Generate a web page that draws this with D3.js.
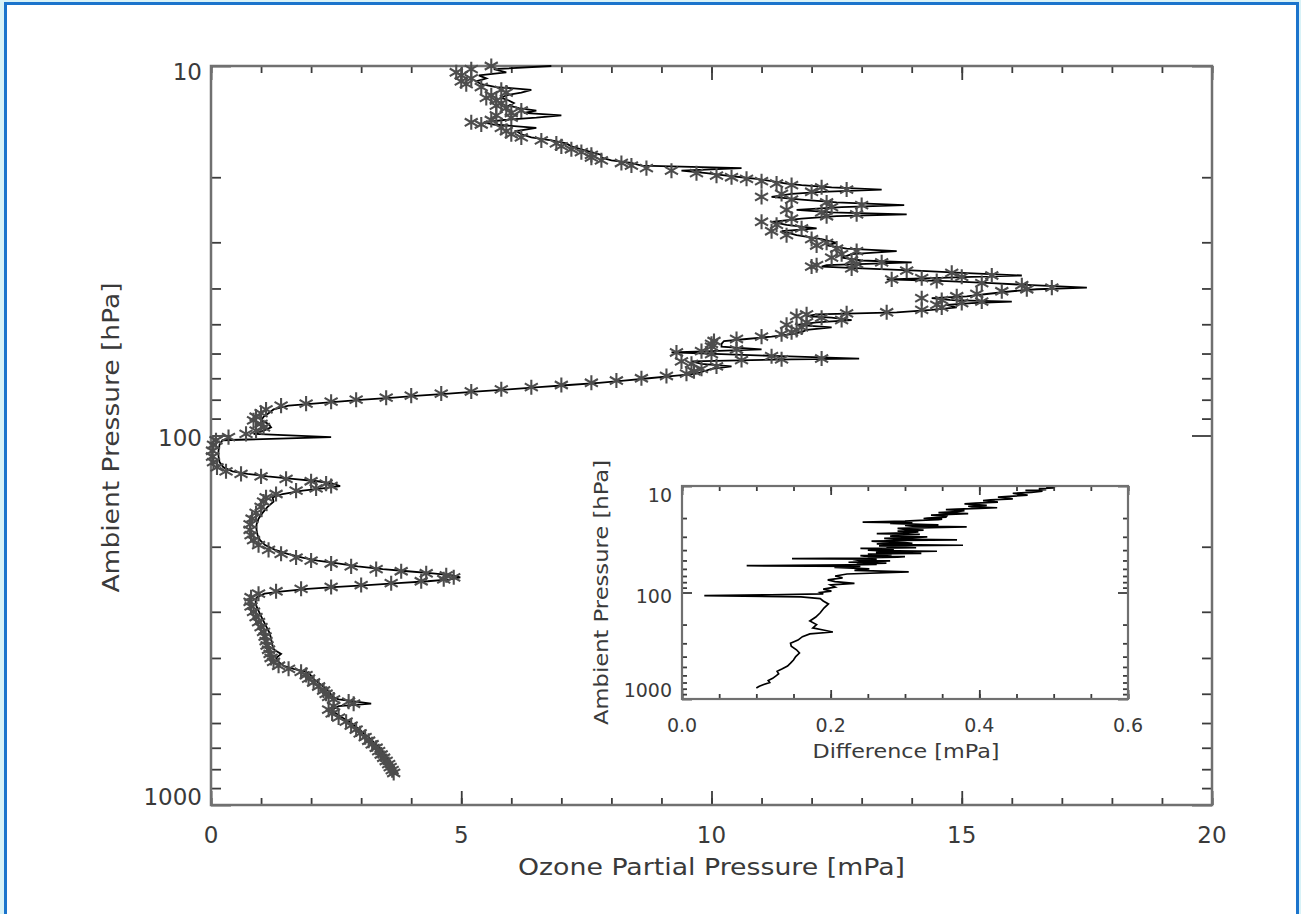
<!DOCTYPE html>
<html>
<head>
<meta charset="utf-8">
<script src="https://cdn.jsdelivr.net/npm/d3@7"></script>
<style>
body { margin: 0; background: #ffffff; }
text { font-family: "DejaVu Sans", sans-serif; fill: #3a3a3a; }
</style>
</head>
<body>
<div id="chart"></div>
<script>
// ambient pressure levels [hPa], surface upwards
var pressureLevels = [
  819,805,790,775,760,745,730,715,700,685,
  670,655,640,625,610,595,580,565,552,540,
  532,525,518,510,500,490,478,466,455,445,
  436,428,420,410,400,390,380,370,360,350,
  340,330,320,310,300,290,282,274,268,264,
  260,257,254,251,248,245,242,239,236,233,
  230,226,222,218,214,209,204,198,192,186,
  180,174,168,162,156,151,147,144,141,139,
  137,135,133,131,129,127,125,122,118,114,
  110,106,103,101,99,97,95,93,91,89,
  87,85,83,82,81,80,79,78,77,76,
  75,74,73,72,71,70,69,68,67,66,
  65,64,63,62.5,62.2,61.9,61.0,60.2,59.6,59.1,
  58.5,57.5,56.5,55.5,54.8,54.0,53.2,52.5,51.8,51.0,
  50.2,49.4,48.7,48.0,47.5,47.0,46.7,46.4,45.7,45.0,
  44.3,43.8,43.4,43.0,42.5,42.0,41.4,40.7,40.2,39.8,
  39.2,38.7,38.2,37.8,37.5,37.2,36.9,36.3,35.8,35.3,
  34.9,34.6,34.3,34.0,33.6,33.0,32.3,31.7,31.2,30.6,
  30.1,29.4,28.7,28.0,27.5,26.9,26.4,25.9,25.5,25.2,
  24.9,24.5,24.1,23.8,23.4,23.0,22.6,22.2,21.9,21.6,
  21.3,21.0,20.8,20.5,20.2,20.0,19.8,19.5,19.2,18.9,
  18.6,18.3,18.0,17.7,17.4,17.1,16.8,16.5,16.2,15.9,
  15.6,15.3,15.0,14.7,14.4,14.2,14.0,13.8,13.6,13.4,
  13.2,13.0,12.8,12.6,12.4,12.2,12.0,11.8,11.6,11.4,
  11.2,11.0,10.8,10.6,10.4,10.2,10.0
];

// ozone partial pressure [mPa], sonde drawn with asterisks
var ozoneStars = [
  3.65,3.62,3.58,3.55,3.50,3.45,3.40,3.35,3.30,3.22,
  3.15,3.08,2.98,2.90,2.80,2.70,2.55,2.42,2.35,2.45,
  2.85,2.75,2.45,2.35,2.30,2.25,2.15,2.05,1.95,1.90,
  1.80,1.55,1.35,1.25,1.20,1.18,1.15,1.12,1.10,1.08,
  1.05,1.00,0.95,0.90,0.85,0.80,0.78,0.80,0.95,1.30,
  1.80,2.40,3.00,3.60,4.20,4.65,4.85,4.70,4.30,3.80,
  3.30,2.80,2.40,2.00,1.70,1.40,1.15,0.95,0.85,0.80,
  0.78,0.78,0.82,0.90,1.00,1.05,1.10,1.30,1.70,2.10,
  2.40,2.30,2.00,1.50,1.00,0.60,0.30,0.12,0.05,0.03,
  0.03,0.05,0.10,0.35,0.70,0.90,1.05,1.00,0.85,0.90,
  1.00,1.10,1.40,1.90,2.40,2.90,3.50,4.00,4.60,5.20,
  5.80,6.40,7.00,7.60,8.10,8.60,9.10,9.50,9.65,9.80,
  10.10,9.60,9.40,10.60,11.40,12.20,11.20,10.00,9.30,9.80,
  10.50,10.00,10.00,10.05,10.50,11.00,11.40,11.60,11.70,11.80,
  11.50,11.90,12.60,12.20,11.70,11.90,12.70,13.50,14.20,14.60,
  14.50,15.00,15.40,14.60,14.20,14.90,15.30,15.80,16.30,16.80,
  16.20,15.40,14.50,13.60,14.20,15.00,15.60,14.80,13.90,12.80,
  12.00,12.10,12.90,13.40,12.80,12.40,12.60,12.90,12.50,12.10,
  12.30,12.00,11.50,11.20,11.80,11.30,11.00,11.60,12.30,12.90,
  12.20,11.50,12.40,13.00,12.30,11.60,11.00,11.40,12.00,12.70,
  12.20,11.60,11.30,11.00,10.70,10.40,10.10,9.70,9.20,8.70,
  8.40,8.20,7.80,7.60,7.60,7.40,7.20,7.00,6.90,6.60,
  6.20,6.00,5.90,5.80,5.40,5.20,5.60,6.00,5.70,6.00,
  6.20,5.90,5.70,5.80,5.70,5.50,5.60,5.90,5.80,5.40,
  5.10,5.00,5.20,5.00,4.90,5.20,5.60
];

// ozone partial pressure [mPa], sonde drawn with the black line
var ozoneLine = [
  3.72,3.69,3.66,3.62,3.57,3.52,3.47,3.42,3.37,3.29,
  3.22,3.15,3.05,2.97,2.87,2.77,2.62,2.50,2.42,2.55,
  3.20,2.90,2.55,2.43,2.39,2.34,2.24,2.14,2.04,1.99,
  1.90,1.65,1.45,1.35,1.30,1.40,1.26,1.23,1.21,1.19,
  1.16,1.11,1.06,1.01,0.96,0.91,0.89,0.92,1.07,1.43,
  1.93,2.53,3.13,3.73,4.33,4.78,4.98,4.83,4.43,3.93,
  3.43,2.93,2.53,2.13,1.83,1.53,1.28,1.08,0.98,0.93,
  0.91,0.91,0.95,1.03,1.13,1.25,1.23,1.43,1.83,2.23,
  2.58,2.43,2.13,1.63,1.13,0.73,0.43,0.25,0.17,0.15,
  0.15,0.17,0.23,2.40,0.85,1.05,1.20,1.15,1.00,1.05,
  1.15,1.25,1.55,2.05,2.55,3.05,3.65,4.15,4.75,5.35,
  5.95,6.55,7.15,7.75,8.25,8.75,9.25,9.70,9.85,10.00,
  10.40,9.80,9.60,10.80,11.60,12.95,11.40,10.20,9.20,10.00,
  11.00,10.20,10.20,10.25,10.70,11.20,11.60,11.80,11.90,12.40,
  11.70,12.10,12.80,12.40,11.90,12.10,12.90,13.70,14.40,14.90,
  14.70,15.20,16.00,14.80,14.40,15.10,15.50,16.00,16.50,17.50,
  16.40,15.60,14.70,13.50,14.40,15.20,16.20,15.00,14.10,13.00,
  12.20,12.30,13.10,14.00,13.00,12.60,12.80,13.70,12.70,12.30,
  12.50,12.20,11.70,11.40,12.10,11.50,11.20,11.80,12.50,13.90,
  12.40,11.70,12.60,13.85,12.50,11.80,11.20,11.60,12.20,13.40,
  12.40,11.80,11.50,11.20,10.90,10.60,10.30,9.90,9.40,10.60,
  8.60,8.40,8.00,7.80,7.80,7.60,7.40,7.20,7.10,6.80,
  6.40,6.20,6.10,6.50,5.65,5.45,5.85,6.50,7.00,6.25,
  6.50,6.15,5.95,6.05,5.95,5.80,5.90,6.20,6.40,5.70,
  5.40,5.30,5.50,5.35,5.90,5.65,6.80
];

// inset: difference between the two sondes [mPa]
var insetPressure = [
  790,760,730,700,670,640,610,580,550,520,
  490,460,430,400,370,345,320,300,280,260,
  245,235,225,215,200,185,170,155,140,128,
  120,114,110,107,105,103,100,97,93,89,
  85,82,79,76,73,70,67,64,62,
  60,59,58,57,56,55,54.5,54,53,52.5,
  52,51,50.5,50,49,48.5,48,47.5,47,46.5,
  46,45.5,45,44.5,44,43.5,43,42.5,42,41.5,
  41,40.5,40,39.5,39,38.5,38,37.5,37,36.5,
  36,35.5,35,34.5,34,33.5,33,32.5,32,31.5,
  31,30.5,30,29.5,29,28.5,28,27.5,27,26.5,
  26,25.5,25,24.6,24.2,23.8,23.5,23.2,23,22.7,
  22.5,22.2,21.8,21.4,21,20.7,20.5,20.2,20,19.6,
  19.2,18.8,18.5,18.2,17.8,17.4,17,16.7,16.5,16.2,
  16,15.7,15.5,15.2,15,14.7,14.5,14.2,14,13.7,
  13.5,13.2,13,12.7,12.5,12.2,12,11.7,11.5,11.2,
  11,10.8,10.6,10.4,10.2,10.0
];
var insetDiff = [
  0.100,0.104,0.110,0.118,0.116,0.122,0.126,0.130,0.128,0.135,
  0.142,0.146,0.150,0.153,0.158,0.154,0.147,0.146,0.156,0.162,
  0.172,0.203,0.190,0.176,0.181,0.172,0.180,0.186,0.191,0.197,
  0.190,0.186,0.160,0.030,0.120,0.190,0.186,0.201,0.190,0.206,
  0.200,0.232,0.206,0.196,0.216,0.206,0.222,0.305,0.232,
  0.252,0.230,0.205,0.240,0.087,0.225,0.262,0.235,0.275,0.245,
  0.224,0.262,0.280,0.238,0.230,0.262,0.148,0.250,0.255,0.290,
  0.300,0.245,0.240,0.270,0.282,0.250,0.322,0.262,0.262,0.290,
  0.343,0.265,0.250,0.285,0.272,0.240,0.315,0.275,0.300,0.265,
  0.378,0.290,0.262,0.310,0.300,0.270,0.255,0.300,0.370,0.285,
  0.272,0.310,0.330,0.280,0.290,0.320,0.262,0.300,0.318,0.290,
  0.325,0.300,0.290,0.335,0.383,0.310,0.300,0.345,0.330,0.300,
  0.280,0.310,0.243,0.300,0.320,0.345,0.350,0.325,0.330,0.355,
  0.356,0.335,0.360,0.385,0.345,0.370,0.380,0.355,0.370,0.400,
  0.424,0.390,0.385,0.410,0.400,0.380,0.395,0.425,0.420,0.405,
  0.415,0.445,0.438,0.425,0.440,0.465,0.455,0.445,0.470,0.485,
  0.462,0.490,0.480,0.500,0.490,0.510
];

var xTickValues = [0, 5, 10, 15, 20];
var xTickLabels = ["0", "5", "10", "15", "20"];
var yTickValues = [10, 100, 1000];
var yTickLabels = ["10", "100", "1000"];
var insetXTickValues = [0, 0.2, 0.4, 0.6];
var insetXTickLabels = ["0.0", "0.2", "0.4", "0.6"];

var svgWidth = 1301;
var svgHeight = 914;

var svg = d3.select("#chart")
  .append("svg")
  .attr("width", svgWidth)
  .attr("height", svgHeight);

// page frame
svg.append("rect").attr("width", svgWidth).attr("height", svgHeight).attr("fill", "#d8f2f7");
svg.append("rect")
  .attr("x", 5.5).attr("y", 3.5)
  .attr("width", 1292).attr("height", 1000)
  .attr("fill", "#ffffff")
  .attr("stroke", "#1b74cc")
  .attr("stroke-width", 3);

var plot = { left: 211, right: 1212, top: 66, bottom: 805 };

var x = d3.scaleLinear().domain([0, 20]).range([plot.left, plot.right]);
var y = d3.scaleLog().domain([10, 1000]).range([plot.top, plot.bottom]);

var minorY = [20,30,40,50,60,70,80,90,200,300,400,500,600,700,800,900];

function tickAxis(axis, tx, ty) {
  svg.append("g")
    .attr("transform", "translate(" + tx + "," + ty + ")")
    .call(axis)
    .call(g => g.select(".domain").remove())
    .call(g => g.selectAll("line").attr("stroke", "#3c3c3c").attr("stroke-width", 1.8));
}

var minorX = d3.range(0, 21);
tickAxis(d3.axisBottom(x).tickValues(minorX).tickSize(-7).tickFormat(""), 0, plot.bottom);
tickAxis(d3.axisBottom(x).tickValues(xTickValues).tickSize(-14).tickFormat(""), 0, plot.bottom);
tickAxis(d3.axisTop(x).tickValues(minorX).tickSize(-7).tickFormat(""), 0, plot.top);
tickAxis(d3.axisTop(x).tickValues(xTickValues).tickSize(-14).tickFormat(""), 0, plot.top);
tickAxis(d3.axisLeft(y).tickValues(minorY).tickSize(-10).tickFormat(""), plot.left, 0);
tickAxis(d3.axisLeft(y).tickValues(yTickValues).tickSize(-20).tickFormat(""), plot.left, 0);
tickAxis(d3.axisRight(y).tickValues(minorY).tickSize(-10).tickFormat(""), plot.right, 0);
tickAxis(d3.axisRight(y).tickValues(yTickValues).tickSize(-20).tickFormat(""), plot.right, 0);

svg.append("rect")
  .attr("x", plot.left).attr("y", plot.top)
  .attr("width", plot.right - plot.left).attr("height", plot.bottom - plot.top)
  .attr("fill", "none").attr("stroke", "#707070").attr("stroke-width", 2.5);

var profile = pressureLevels.map((p, i) => ({ p: p, a: ozoneStars[i], b: ozoneLine[i] }));

var line = d3.line().x(d => x(d.b)).y(d => y(d.p));
svg.append("path")
  .datum(profile)
  .attr("d", line)
  .attr("fill", "none")
  .attr("stroke", "#000000")
  .attr("stroke-width", 1.8);

var star = d3.symbol().type(d3.symbolAsterisk).size(160);
svg.selectAll(".star")
  .data(profile)
  .enter()
  .append("path")
  .attr("class", "star")
  .attr("d", star)
  .attr("transform", d => "translate(" + x(d.a) + "," + y(d.p) + ")")
  .attr("fill", "none")
  .attr("stroke", "#4d4d4d")
  .attr("stroke-width", 2.1);

// tick labels
svg.selectAll(".xlab")
  .data(xTickValues)
  .enter()
  .append("text")
  .attr("x", d => x(d))
  .attr("y", plot.bottom + 38)
  .attr("text-anchor", "middle")
  .attr("font-size", 23)
  .text((d, i) => xTickLabels[i]);

svg.selectAll(".ylab")
  .data(yTickValues)
  .enter()
  .append("text")
  .attr("x", plot.left - 9)
  .attr("y", (d, i) => y(d) + 8 + (i === 0 ? 6 : i === yTickValues.length - 1 ? -8 : 2))
  .attr("text-anchor", "end")
  .attr("font-size", 23)
  .text((d, i) => yTickLabels[i]);

svg.append("text")
  .attr("x", (plot.left + plot.right) / 2)
  .attr("y", plot.bottom + 70)
  .attr("text-anchor", "middle")
  .attr("font-size", 23)
  .attr("textLength", 387)
  .attr("lengthAdjust", "spacingAndGlyphs")
  .text("Ozone Partial Pressure [mPa]");

svg.append("text")
  .attr("transform", "translate(119," + ((plot.top + plot.bottom) / 2 + 2) + ") rotate(-90)")
  .attr("text-anchor", "middle")
  .attr("font-size", 23)
  .attr("textLength", 310)
  .attr("lengthAdjust", "spacingAndGlyphs")
  .text("Ambient Pressure [hPa]");

// inset
var inset = { left: 682, right: 1128, top: 486, bottom: 699 };
var ix = d3.scaleLinear().domain([0, 0.6]).range([inset.left, inset.right]);
var iy = d3.scaleLog().domain([10, 1000]).range([inset.top, inset.bottom]);

svg.append("rect")
  .attr("x", inset.left).attr("y", inset.top)
  .attr("width", inset.right - inset.left).attr("height", inset.bottom - inset.top)
  .attr("fill", "#ffffff");

var insetMinorX = d3.range(0, 13).map(k => k * 0.05);
tickAxis(d3.axisBottom(ix).tickValues(insetMinorX).tickSize(-5).tickFormat(""), 0, inset.bottom);
tickAxis(d3.axisBottom(ix).tickValues(insetXTickValues).tickSize(-9).tickFormat(""), 0, inset.bottom);
tickAxis(d3.axisTop(ix).tickValues(insetMinorX).tickSize(-5).tickFormat(""), 0, inset.top);
tickAxis(d3.axisTop(ix).tickValues(insetXTickValues).tickSize(-9).tickFormat(""), 0, inset.top);
tickAxis(d3.axisLeft(iy).tickValues(minorY).tickSize(-5).tickFormat(""), inset.left, 0);
tickAxis(d3.axisLeft(iy).tickValues(yTickValues).tickSize(-10).tickFormat(""), inset.left, 0);
tickAxis(d3.axisRight(iy).tickValues(minorY).tickSize(-5).tickFormat(""), inset.right, 0);
tickAxis(d3.axisRight(iy).tickValues(yTickValues).tickSize(-10).tickFormat(""), inset.right, 0);

var diffs = insetPressure.map((p, i) => ({ p: p, d: insetDiff[i] }));
svg.append("path")
  .datum(diffs)
  .attr("d", d3.line().x(d => ix(d.d)).y(d => iy(d.p)))
  .attr("fill", "none")
  .attr("stroke", "#000000")
  .attr("stroke-width", 1.7);

svg.append("rect")
  .attr("x", inset.left).attr("y", inset.top)
  .attr("width", inset.right - inset.left).attr("height", inset.bottom - inset.top)
  .attr("fill", "none").attr("stroke", "#707070").attr("stroke-width", 2.2);

svg.selectAll(".ixlab")
  .data(insetXTickValues)
  .enter()
  .append("text")
  .attr("x", d => ix(d))
  .attr("y", inset.bottom + 33)
  .attr("text-anchor", "middle")
  .attr("font-size", 19)
  .text((d, i) => insetXTickLabels[i]);

svg.selectAll(".iylab")
  .data(yTickValues)
  .enter()
  .append("text")
  .attr("x", inset.left - 10)
  .attr("y", (d, i) => iy(d) + 7 + (i === 0 ? 9 : i === yTickValues.length - 1 ? -9 : 3))
  .attr("text-anchor", "end")
  .attr("font-size", 19)
  .text((d, i) => yTickLabels[i]);

svg.append("text")
  .attr("x", (inset.left + inset.right) / 2 + 1)
  .attr("y", inset.bottom + 59)
  .attr("text-anchor", "middle")
  .attr("font-size", 19)
  .attr("textLength", 187)
  .attr("lengthAdjust", "spacingAndGlyphs")
  .text("Difference [mPa]");

svg.append("text")
  .attr("transform", "translate(608," + ((inset.top + inset.bottom) / 2) + ") rotate(-90)")
  .attr("text-anchor", "middle")
  .attr("font-size", 19)
  .attr("textLength", 265)
  .attr("lengthAdjust", "spacingAndGlyphs")
  .text("Ambient Pressure [hPa]");
</script>
</body>
</html>
